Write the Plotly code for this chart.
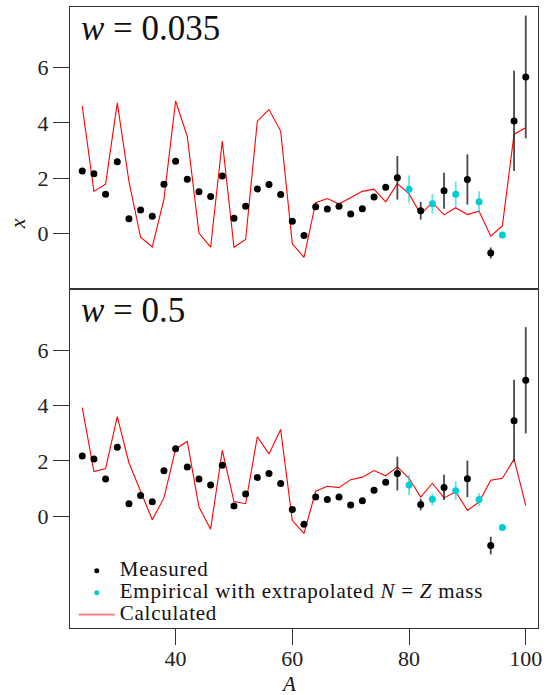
import plotly.graph_objects as go
from plotly.subplots import make_subplots

# ---------------- data ----------------
A_calc = [24, 26, 28, 30, 32, 34, 36, 38, 40, 42, 44, 46, 48, 50, 52, 54, 56, 58, 60,
          62, 64, 66, 68, 70, 72, 74, 76, 78, 80, 82, 84, 86, 88, 90, 92, 94, 96, 98, 100]
A_meas = [24, 26, 28, 30, 32, 34, 36, 38, 40, 42, 44, 46, 48, 50, 52, 54, 56, 58, 60,
          62, 64, 66, 68, 70, 72, 74, 76, 78, 82, 86, 90, 94, 98, 100]
A_emp = [80, 84, 88, 92, 96]

# w = 0.035
meas_1 = [2.26, 2.16, 1.42, 2.59, 0.53, 0.85, 0.62, 1.78, 2.61, 1.96, 1.51, 1.33, 2.08,
          0.55, 0.98, 1.61, 1.77, 1.41, 0.44, -0.08, 0.96, 0.88, 0.98, 0.70, 0.89, 1.32,
          1.67, 2.01, 0.82, 1.54, 1.95, -0.71, 4.07, 5.66]
meas_err_1 = [0, 0, 0, 0, 0, 0, 0, 0, 0, 0, 0, 0, 0, 0, 0, 0, 0, 0, 0, 0, 0, 0, 0, 0, 0, 0,
              0, 0.79, 0.32, 0.65, 0.91, 0.20, 1.81, 2.22]
emp_1 = [1.60, 1.07, 1.42, 1.14, -0.06]
emp_err_1 = [0.49, 0.35, 0.46, 0.38, 0]
calc_1 = [4.61, 1.52, 1.78, 4.72, 1.88, -0.14, -0.49, 1.24, 4.79, 3.51, 0.01, -0.50, 3.34,
          -0.50, -0.22, 4.06, 4.48, 3.70, -0.38, -0.87, 1.11, 1.26, 1.06, 1.30, 1.52, 1.60,
          1.14, 1.80, 1.43, 0.70, 1.12, 0.67, 0.93, 0.68, 0.80, -0.10, 0.28, 3.59, 3.82]

# w = 0.5
meas_2 = [2.17, 2.07, 1.34, 2.49, 0.45, 0.75, 0.52, 1.64, 2.44, 1.78, 1.34, 1.13, 1.84,
          0.37, 0.80, 1.40, 1.54, 1.18, 0.24, -0.29, 0.69, 0.60, 0.69, 0.40, 0.56, 0.94,
          1.23, 1.54, 0.42, 1.04, 1.35, -1.06, 3.45, 4.91]
meas_err_2 = [0, 0, 0, 0, 0, 0, 0, 0, 0, 0, 0, 0, 0, 0, 0, 0, 0, 0, 0, 0, 0, 0, 0, 0, 0, 0,
              0, 0.61, 0.21, 0.46, 0.66, 0.32, 1.48, 1.92]
emp_2 = [1.13, 0.61, 0.92, 0.60, -0.41]
emp_err_2 = [0.37, 0.22, 0.33, 0.23, 0]
calc_2 = [3.92, 1.61, 1.72, 3.60, 1.93, 0.90, -0.13, 0.66, 2.43, 2.70, 0.33, -0.47, 2.38,
          0.53, 0.45, 2.87, 2.25, 3.13, -0.16, -0.62, 0.90, 1.08, 1.03, 1.32, 1.41, 1.65,
          1.46, 1.78, 1.37, 0.69, 1.19, 0.66, 0.88, 0.21, 0.51, 1.30, 1.37, 2.06, 0.39]

y_ticks = [0, 2, 4, 6]
x_ticks = [40, 60, 80, 100]
panel_labels = ["<i>w</i> = 0.035", "<i>w</i> = 0.5"]
legend_names = ["Measured", "Empirical with extrapolated <i>N</i> = <i>Z</i> mass", "Calculated"]

# ---------------- style ----------------
FONT = "Liberation Serif"
BLACK = "#000000"
CYAN = "#00CED1"
RED = "#FF0000"


def big(s):
    return '<span style="font-size:21px;letter-spacing:0.75px">' + s + '</span>'


fig = make_subplots(rows=2, cols=1, shared_xaxes=True, vertical_spacing=0,
                    row_heights=[0.454, 0.546])

panels = [(meas_1, meas_err_1, emp_1, emp_err_1, calc_1),
          (meas_2, meas_err_2, emp_2, emp_err_2, calc_2)]

for i, (m, me, e, ee, c) in enumerate(panels):
    row = i + 1
    fig.add_trace(go.Scatter(
        x=A_calc, y=c, mode="lines", name=legend_names[2],
        line=dict(color=RED, width=1.1), showlegend=False), row=row, col=1)
    fig.add_trace(go.Scatter(
        x=A_meas, y=m, mode="markers", name=legend_names[0],
        marker=dict(color=BLACK, size=7),
        error_y=dict(type="data", array=me, visible=True, width=0,
                     thickness=1.8, color="rgba(40,40,40,0.85)"),
        showlegend=False), row=row, col=1)
    fig.add_trace(go.Scatter(
        x=A_emp, y=e, mode="markers", name=legend_names[1],
        marker=dict(color=CYAN, size=7),
        error_y=dict(type="data", array=ee, visible=True, width=0,
                     thickness=1.8, color="rgba(0,206,209,0.6)"),
        showlegend=False), row=row, col=1)

# legend-only entries (smaller symbols, as in the reference key)
fig.add_trace(go.Scatter(x=[None], y=[None], mode="markers", name=big(legend_names[0]),
                         marker=dict(color=BLACK, size=5), legendrank=1), row=2, col=1)
fig.add_trace(go.Scatter(x=[None], y=[None], mode="markers", name=big(legend_names[1]),
                         marker=dict(color=CYAN, size=5), legendrank=2), row=2, col=1)
fig.add_trace(go.Scatter(x=[None], y=[None], mode="lines", name=big(legend_names[2]),
                         line=dict(color="rgba(255,0,0,0.55)", width=1.6),
                         legendrank=3), row=2, col=1)

axis_common = dict(showline=True, mirror=True, linecolor="#333333", linewidth=1.2,
                   showgrid=False, zeroline=False, ticklen=16, tickcolor="#333333",
                   tickwidth=1.2, tickfont=dict(family=FONT, size=22, color="#222222"))

fig.update_xaxes(range=[21.9, 102.1], tickvals=x_ticks, **axis_common)
fig.update_xaxes(ticks="", showticklabels=False, row=1, col=1)
fig.update_xaxes(ticks="outside", ticklabelstandoff=-6, row=2, col=1)
fig.update_yaxes(tickvals=y_ticks, ticks="outside", **axis_common)
fig.update_yaxes(range=[-2.01, 8.19], row=1, col=1)
fig.update_yaxes(range=[-4.04, 8.21], row=2, col=1)

for k, ref in enumerate(["", "2"]):
    fig.add_annotation(text=panel_labels[k], xref="x%s domain" % ref, yref="y%s domain" % ref,
                       x=0.02, y=1.0, yshift=0, xanchor="left", yanchor="top", showarrow=False,
                       font=dict(family=FONT, size=35, color="#111111"))
fig.add_annotation(text="<i>x</i>", xref="paper", yref="paper", x=-0.112, y=0.651,
                   xanchor="center", yanchor="middle", showarrow=False, textangle=-90,
                   font=dict(family=FONT, size=22, color="#111111"))
fig.add_annotation(text="<i>A</i>", xref="paper", yref="paper", x=0.466, y=-0.09,
                   xanchor="center", yanchor="middle", showarrow=False,
                   font=dict(family=FONT, size=21, color="#111111"))

fig.update_layout(
    width=548, height=695,
    margin=dict(l=70, r=6, t=6, b=67),
    paper_bgcolor="white", plot_bgcolor="white",
    showlegend=True,
    legend=dict(x=0.008, y=0.118, xanchor="left", yanchor="top",
                bgcolor="rgba(0,0,0,0)", borderwidth=0,
                font=dict(family=FONT, size=14.6, color="#111111"),
                itemwidth=36, tracegroupgap=0),
)

fig.write_html("out.html", config={"displayModeBar": False},
               post_script="document.body.style.margin='0px';")
